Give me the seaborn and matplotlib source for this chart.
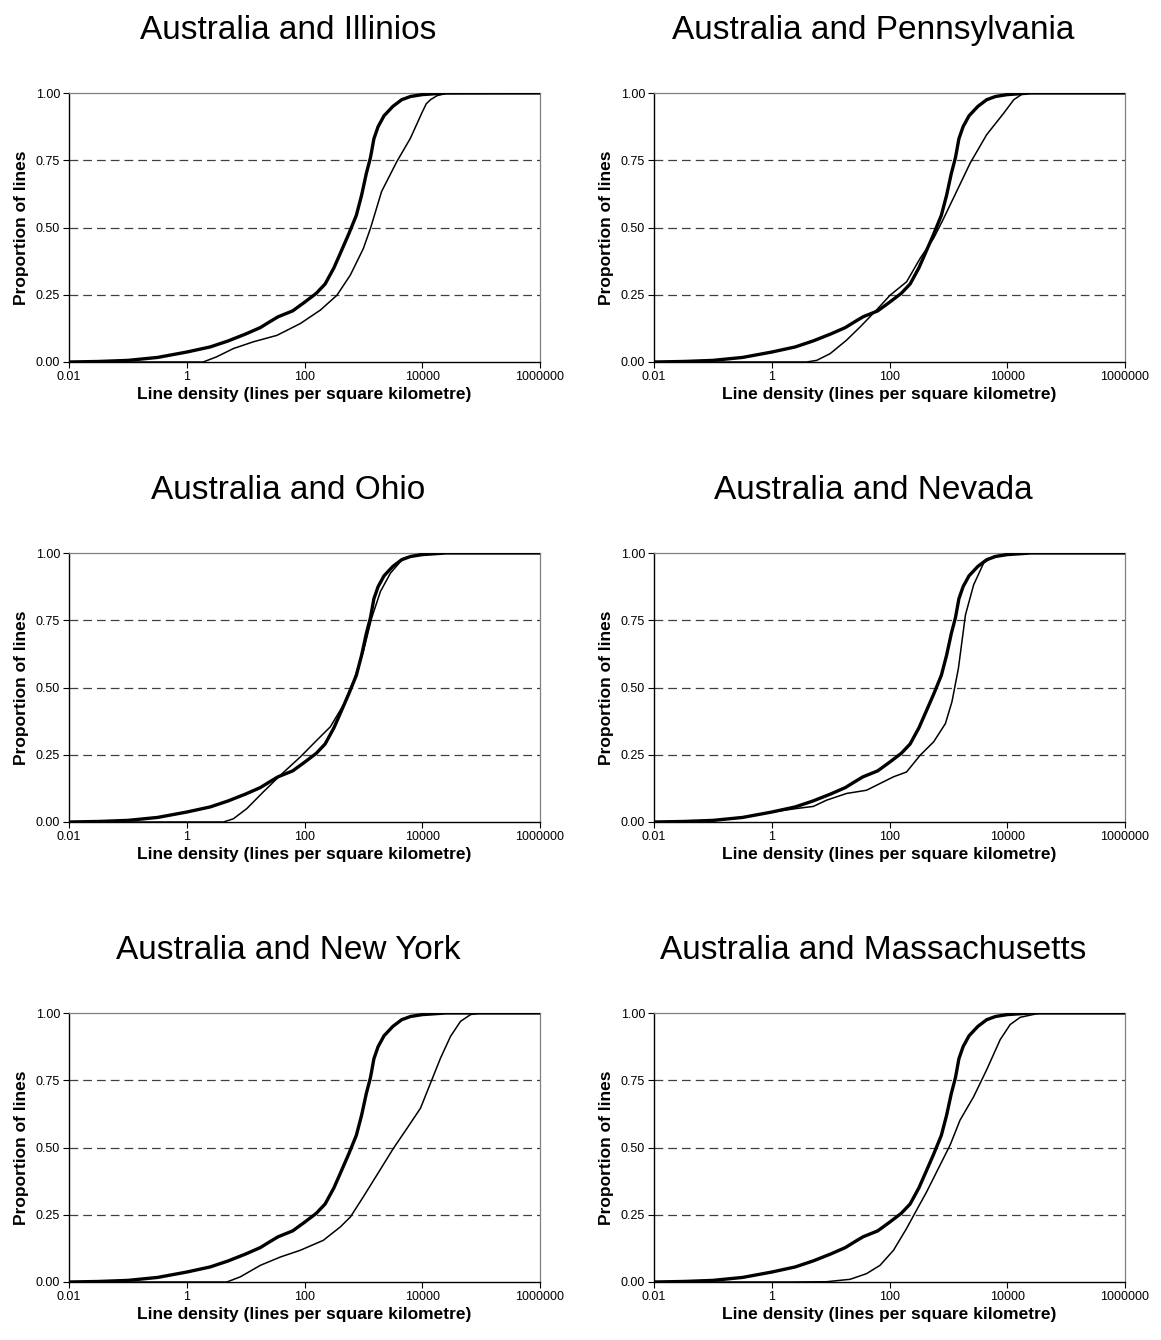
import numpy as np
import pandas as pd
import seaborn as sns
import matplotlib.pyplot as plt
from matplotlib.ticker import FixedLocator, FixedFormatter, NullLocator

# Australia (thick line, same in every panel)
aus_density = [0.01, 0.032, 0.1, 0.32, 1, 2.5, 5.0, 10, 17.8, 25, 35.5, 63, 100, 158, 224,
               316, 417, 562, 759, 933, 1120, 1320, 1510, 1780, 2240, 3160, 4470, 6310,
               10000, 25100, 1000000]
aus_prop = [0.0, 0.002, 0.006, 0.017, 0.037, 0.056, 0.078, 0.104, 0.128, 0.148, 0.168,
            0.19, 0.222, 0.255, 0.29, 0.35, 0.41, 0.475, 0.545, 0.62, 0.7, 0.76, 0.83,
            0.875, 0.915, 0.95, 0.975, 0.987, 0.994, 1.0, 1.0]

# state curves (thin line)
illinois_density = [0.01, 1.9, 3.2, 6.2, 13.5, 34, 85, 186, 355, 600, 1000, 1320, 2040,
                    3700, 6300, 9800, 11700, 13800, 17800, 25100, 1000000]
illinois_prop = [0, 0, 0.019, 0.05, 0.075, 0.099, 0.143, 0.193, 0.248, 0.323, 0.422,
                 0.497, 0.634, 0.745, 0.832, 0.925, 0.96, 0.975, 0.99, 0.998, 1.0]

penn_density = [0.01, 3.9, 5.8, 9.8, 18.6, 31.6, 60, 102, 195, 331, 562, 832, 1380,
                2340, 4470, 8710, 12900, 19100, 1000000]
penn_prop = [0, 0, 0.006, 0.031, 0.081, 0.13, 0.193, 0.248, 0.298, 0.385, 0.46, 0.534,
             0.634, 0.739, 0.845, 0.925, 0.975, 1.0, 1.0]

ohio_density = [0.01, 4.2, 6.2, 10.5, 20, 39, 85, 162, 275, 457, 676, 1000, 1380, 1950,
                2880, 4790, 9330, 22900, 1000000]
ohio_prop = [0, 0, 0.012, 0.05, 0.112, 0.174, 0.242, 0.304, 0.354, 0.435, 0.522, 0.634,
             0.758, 0.857, 0.925, 0.981, 0.996, 1.0, 1.0]

nevada_density = [0.01, 0.079, 0.32, 1.02, 2.6, 5.1, 8.5, 18.6, 40.7, 69, 117, 195, 331,
                  562, 891, 1150, 1480, 1950, 2690, 3980, 5890, 9770, 24500, 1000000]
nevada_prop = [0, 0.003, 0.016, 0.037, 0.05, 0.058, 0.081, 0.106, 0.118, 0.143, 0.168,
               0.186, 0.248, 0.298, 0.366, 0.447, 0.571, 0.77, 0.882, 0.963, 0.988,
               0.996, 1.0, 1.0]

newyork_density = [0.01, 4.8, 8.1, 17.8, 39, 85, 209, 407, 603, 1000, 1700, 3240, 5500,
                   9330, 13800, 20400, 30200, 44700, 66100, 97700, 1000000]
newyork_prop = [0, 0, 0.019, 0.062, 0.093, 0.118, 0.155, 0.205, 0.242, 0.317, 0.398,
                0.497, 0.571, 0.646, 0.739, 0.832, 0.913, 0.969, 0.994, 1.0, 1.0]

mass_density = [0.01, 2.0, 8.5, 21.4, 40.7, 69, 117, 195, 288, 427, 724, 1070, 1580,
                2690, 4470, 7590, 11200, 16600, 36300, 1000000]
mass_prop = [0, 0, 0.001, 0.01, 0.031, 0.062, 0.118, 0.199, 0.267, 0.335, 0.435, 0.509,
             0.602, 0.689, 0.789, 0.901, 0.957, 0.984, 1.0, 1.0]

titles = ["Australia and Illinios", "Australia and Pennsylvania", "Australia and Ohio",
          "Australia and Nevada", "Australia and New York", "Australia and Massachusetts"]
state_curves = [(illinois_density, illinois_prop), (penn_density, penn_prop),
                (ohio_density, ohio_prop), (nevada_density, nevada_prop),
                (newyork_density, newyork_prop), (mass_density, mass_prop)]

x_ticks = [0.01, 1, 100, 10000, 1000000]
x_ticklabels = ["0.01", "1", "100", "10000", "1000000"]
y_ticks = [0, 0.25, 0.5, 0.75, 1.0]
y_ticklabels = ["0.00", "0.25", "0.50", "0.75", "1.00"]

sns.set_style("white")
plt.rcParams['font.family'] = ['Liberation Sans', 'DejaVu Sans']
plt.rcParams['text.color'] = 'black'
plt.rcParams['axes.labelcolor'] = 'black'

W, H = 1161, 1340
fig = plt.figure(figsize=(W / 100, H / 100), dpi=100)

lefts = [69, 654]
tops = [93, 553, 1013]
aw, ah = 471, 269

for i, title in enumerate(titles):
    r, c = divmod(i, 2)
    ax = fig.add_axes([lefts[c] / W, 1 - (tops[r] + ah) / H, aw / W, ah / H])
    ax.set_xscale('log')
    for yv in [0.25, 0.5, 0.75]:
        ax.axhline(yv, color='#404040', lw=0.9, dashes=(7, 4), zorder=1)
    aus = pd.DataFrame({'density': aus_density, 'prop': aus_prop})
    sd, sp = state_curves[i]
    st = pd.DataFrame({'density': sd, 'prop': sp})
    sns.lineplot(data=st, x='density', y='prop', ax=ax, color='black', lw=1.1,
                 sort=False, estimator=None, zorder=3)
    sns.lineplot(data=aus, x='density', y='prop', ax=ax, color='black', lw=2.4,
                 sort=False, estimator=None, zorder=4)
    ax.set_xlim(0.01, 1000000)
    ax.set_ylim(0, 1)
    ax.xaxis.set_major_locator(FixedLocator(x_ticks))
    ax.xaxis.set_major_formatter(FixedFormatter(x_ticklabels))
    ax.xaxis.set_minor_locator(NullLocator())
    ax.set_yticks(y_ticks)
    ax.set_yticklabels(y_ticklabels)
    ax.tick_params(axis='both', which='major', direction='out', length=4.5, width=0.8,
                   labelsize=9, colors='black', pad=2, left=True, bottom=True)
    for s in ['left', 'bottom']:
        ax.spines[s].set_color('black')
        ax.spines[s].set_linewidth(1.0)
    for s in ['top', 'right']:
        ax.spines[s].set_color('#808080')
        ax.spines[s].set_linewidth(0.9)
    ax.set_xlabel("Line density (lines per square kilometre)", fontsize=12.5,
                  fontweight='bold', labelpad=3)
    ax.set_ylabel("Proportion of lines", fontsize=12.5, fontweight='bold', labelpad=5)
    ax.set_title(title, fontsize=24, pad=39, color='black', x=0.466)

fig.savefig("out.png", dpi=100, facecolor='white')
